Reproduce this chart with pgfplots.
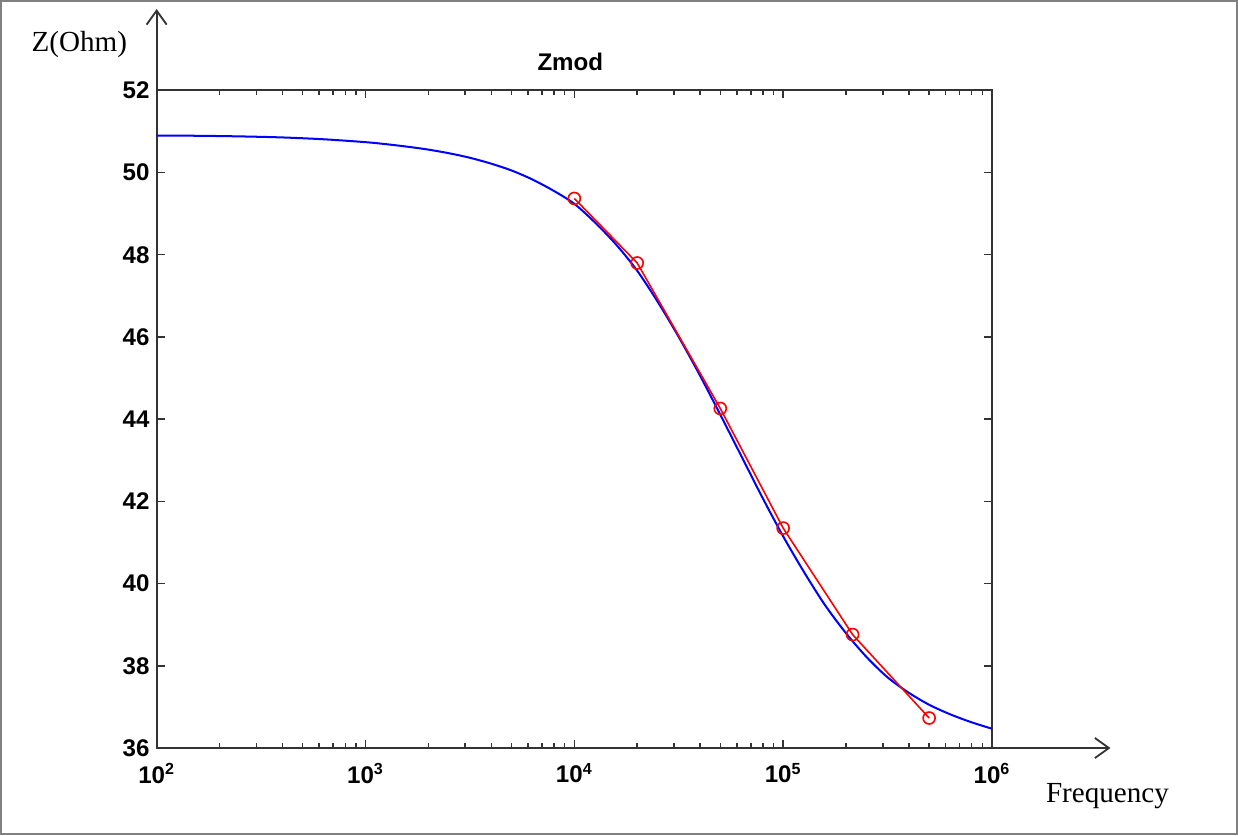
\documentclass[border=0pt]{standalone}
\usepackage{fontspec}
\setmainfont{Liberation Serif}
\setsansfont{Liberation Sans}
\usepackage{pgfplots}
\usepackage{pgfplotstable}
\pgfplotsset{compat=1.18}
\usetikzlibrary{arrows.meta}

% fitted model curve (blue)
\pgfplotstableread{
f z
100 50.900
158.5 50.895
251.2 50.880
398.1 50.855
631 50.810
1000 50.740
1259 50.690
1585 50.630
1995 50.560
2512 50.470
3162 50.360
3981 50.220
5012 50.050
6310 49.830
7943 49.560
10000 49.240
12589 48.780
15849 48.250
19953 47.620
25119 46.850
31623 46.000
39811 45.080
50119 44.100
63096 43.100
79433 42.100
100000 41.150
125893 40.280
158489 39.480
199526 38.800
251189 38.210
316228 37.720
398107 37.350
501187 37.050
630957 36.820
794328 36.630
1000000 36.470
}\fitdata

% measured points (red)
\pgfplotstableread{
f z
10000 49.37
20000 47.80
50000 44.26
100000 41.35
215000 38.76
500000 36.73
}\measdata

\begin{document}
\begin{tikzpicture}
\begin{axis}[
    at={(0,0)}, anchor=south west,
    scale only axis, width=416pt, height=327.5pt,
    xmode=log, xmin=1e2, xmax=1e6,
    ymin=36, ymax=52,
    ytick={36,38,...,52},
    xtick={1e2,1e3,1e4,1e5,1e6},
    xticklabels={10\textsuperscript{2},10\textsuperscript{3},10\textsuperscript{4},10\textsuperscript{5},10\textsuperscript{6}},
    xticklabel style={yshift=-4pt},
    axis line style={black!80, line width=0.9pt},
    tick style={black!80, line width=0.7pt},
    major tick length=4pt, minor tick length=2.5pt,
    tick label style={font=\sffamily\bfseries\fontsize{12}{14}\selectfont},
    /pgf/number format/assume math mode=true,
]
\addplot[blue, line width=1pt, smooth] table[x=f, y=z] {\fitdata};
\addplot[red, line width=0.8pt, mark=o, mark size=3pt] table[x=f, y=z] {\measdata};
\end{axis}

% axis arrows
\draw[black!80, line width=0.9pt, -{Straight Barb[length=7pt, width=10pt]}] (0,327.5pt) -- (0,368pt);
\draw[black!80, line width=0.9pt, -{Straight Barb[length=7pt, width=10pt]}] (416pt,0) -- (475pt,0);

% labels and title
\node[anchor=base, font=\fontsize{14.5}{16}\selectfont] at (-38.5pt,347pt) {Z(Ohm)};
\node[anchor=base, font=\fontsize{14.5}{16}\selectfont] at (473.5pt,-27pt) {Frequency};
\node[anchor=base, font=\sffamily\bfseries\fontsize{12}{14}\selectfont] at (206pt,337.5pt) {Zmod};

% outer frame
\draw[gray, line width=1pt] (-77.5pt,-43pt) rectangle (538pt,372pt);
\end{tikzpicture}
\end{document}
